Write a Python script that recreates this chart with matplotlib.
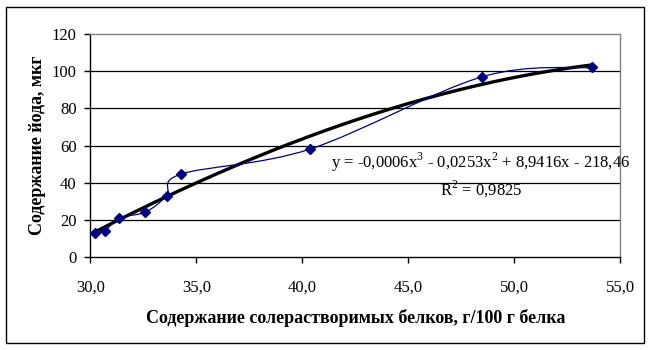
import numpy as np
import matplotlib
matplotlib.use("Agg")
import matplotlib.pyplot as plt
from matplotlib.path import Path
from matplotlib.patches import PathPatch, Rectangle

# protein content (g/100 g protein) vs iodine content (mcg)
protein = [30.2, 30.7, 31.35, 32.6, 33.6, 34.3, 40.35, 48.5, 53.7]
iodine = [12.8, 14.2, 21.0, 24.2, 33.0, 44.7, 58.0, 97.0, 102.0]

x_ticks = [30, 35, 40, 45, 50, 55]
y_ticks = [0, 20, 40, 60, 80, 100, 120]
x_ticklabels = ["30,0", "35,0", "40,0", "45,0", "50,0", "55,0"]

eq_text = "y = -0,0006x$^3$ - 0,0253x$^2$ + 8,9416x - 218,46"
r2_text = "R$^2$ = 0,9825"

plt.rcParams["font.family"] = "Liberation Serif"
plt.rcParams["mathtext.fontset"] = "custom"
plt.rcParams["mathtext.rm"] = "Liberation Serif"

fig = plt.figure(figsize=(6.53, 3.5), dpi=100)
ax = fig.add_axes([90.4 / 653, 1 - 257 / 350, 529.6 / 653, 223 / 350])

# outer frame of the chart
fig.patches.append(Rectangle((6 / 653, 7 / 350), 638 / 653, 336 / 350,
                             transform=fig.transFigure, fill=False,
                             edgecolor="black", linewidth=1.0))

ax.set_xlim(30, 55)
ax.set_ylim(0, 120)

for v in y_ticks[1:-1]:
    ax.axhline(v, color="black", linewidth=0.9, zorder=1)

# Excel-style smoothed connector (Catmull-Rom -> cubic Bezier)
xs = np.array(protein)
ys = np.array(iodine)
# work in display space so smoothing is isotropic like Excel
pts = ax.transData.transform(np.column_stack([xs, ys]))
verts = [pts[0]]
codes = [Path.MOVETO]
n = len(pts)
for i in range(n - 1):
    p0 = pts[i - 1] if i > 0 else pts[i]
    p1 = pts[i]
    p2 = pts[i + 1]
    p3 = pts[i + 2] if i + 2 < n else pts[i + 1]
    c1 = p1 + (p2 - p0) / 6.0
    c2 = p2 - (p3 - p1) / 6.0
    verts += [c1, c2, p2]
    codes += [Path.CURVE4] * 3
verts = ax.transData.inverted().transform(np.array(verts))
ax.add_patch(PathPatch(Path(verts, codes), facecolor="none",
                       edgecolor="#000080", linewidth=0.9, zorder=3))

ax.plot(protein, iodine, linestyle="none", marker="D", markersize=5,
        color="#000080", zorder=4)

# polynomial trend line (3rd order)
coef = np.polyfit(xs, ys, 3)
xt = np.linspace(xs.min(), xs.max(), 200)
ax.plot(xt, np.polyval(coef, xt), color="black", linewidth=2.4, zorder=2)

ax.text(41.35, 51, eq_text, fontsize=12, va="center", ha="left", zorder=5)
ax.text(46.5, 36.5, r2_text, fontsize=12, va="center", ha="left", zorder=5)

ax.set_xticks(x_ticks)
ax.set_xticklabels(x_ticklabels)
ax.set_yticks(y_ticks)
ax.tick_params(axis="both", labelsize=12, length=4, width=1.0, direction="out",
               color="black")
ax.tick_params(axis="x", pad=12)
ax.tick_params(axis="y", pad=6)

for side in ["left", "bottom"]:
    ax.spines[side].set_color("black")
    ax.spines[side].set_linewidth(1.0)
for side in ["top", "right"]:
    ax.spines[side].set_color("#808080")
    ax.spines[side].set_linewidth(1.0)

ax.set_xlabel("Содержание солерастворимых белков, г/100 г белка",
              fontsize=13, fontweight="bold", labelpad=10)
ax.set_ylabel("Содержание йода, мкг", fontsize=13, fontweight="bold",
              labelpad=4)

fig.savefig("out.png", dpi=100)
